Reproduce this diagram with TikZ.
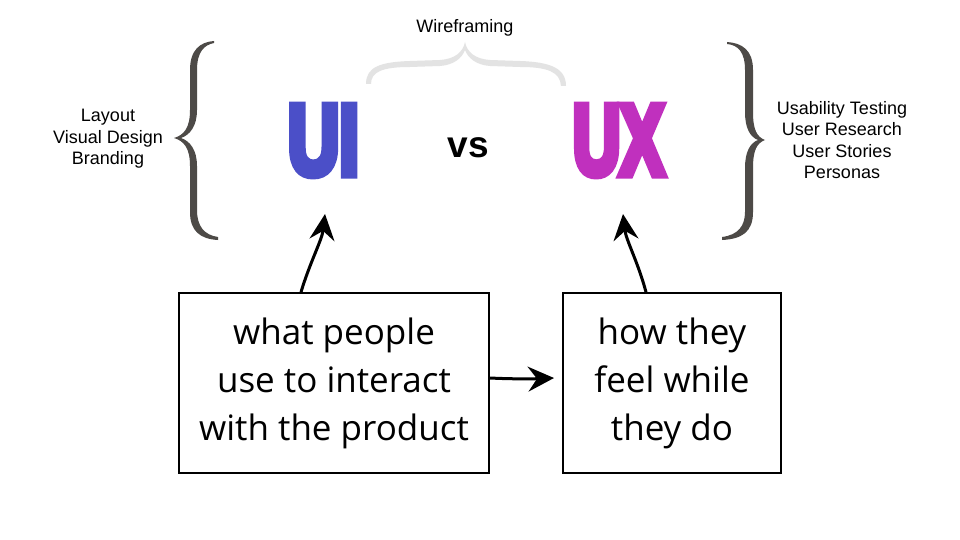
\documentclass[tikz,border=0pt]{standalone}
\usepackage{fontspec}
\setmainfont{Liberation Sans}
\newfontfamily\heavyfont[FakeBold=9]{Liberation Sans}
\newfontfamily\handfont{Open Sans}
\usetikzlibrary{arrows.meta}
\definecolor{uiblue}{HTML}{4B4FC8}
\definecolor{uxpink}{HTML}{C030BE}
\definecolor{bracegray}{HTML}{4D4A47}
\definecolor{wiregray}{HTML}{E3E3E3}
\tikzset{
  smalltext/.style={font=\fontsize{18}{21.5}\selectfont, align=center, inner sep=0pt},
  bigletters/.style={inner sep=0pt},
  textbox/.style={draw, line width=1.8pt, minimum height=180pt, inner sep=0pt,
    font=\handfont\fontsize{35}{48}\selectfont, align=center},
  handarrow/.style={line width=3pt, -{Stealth[length=26pt,width=25pt,inset=9pt]}},
}
\begin{document}
\begin{tikzpicture}[x=1pt,y=-1pt]
\useasboundingbox[fill=white] (0,0) rectangle (960,540);

% left brace
\fill[bracegray] (214,41) .. controls (200,42) and (190,50) .. (190,70) -- (190,110)
  .. controls (190,128) and (184,135) .. (174,138)
  .. controls (184,141) and (190,148) .. (190,166) -- (190,212)
  .. controls (190,231) and (200,239) .. (218,240) -- (218,237)
  .. controls (204,235) and (197,226) .. (197,210) -- (197,166)
  .. controls (197,150) and (190,141) .. (181,138)
  .. controls (190,135) and (197,126) .. (197,110) -- (197,70)
  .. controls (197,52) and (204,45) .. (214,43) -- cycle;

% right brace
\fill[bracegray] (727,42) .. controls (742,43) and (753,50) .. (753,70) -- (753,112)
  .. controls (753,130) and (757,137) .. (765,140)
  .. controls (757,143) and (753,150) .. (753,168) -- (753,212)
  .. controls (753,232) and (742,239) .. (722,240) -- (722,237)
  .. controls (738,235) and (745,226) .. (745,212) -- (745,168)
  .. controls (745,152) and (750,143) .. (758,140)
  .. controls (750,137) and (745,128) .. (745,112) -- (745,70)
  .. controls (745,52) and (738,45) .. (727,44) -- cycle;

% wireframing brace
\fill[wiregray] (366,84) .. controls (366,67) and (380,62) .. (410,61) -- (440,60)
  .. controls (455,59) and (463,52) .. (465,42)
  .. controls (467,52) and (475,59) .. (490,60) -- (520,61)
  .. controls (550,62) and (566,68) .. (566,86) -- (561,86)
  .. controls (560,72) and (548,67) .. (520,67) -- (490,66)
  .. controls (476,65) and (468,58) .. (465,50)
  .. controls (462,58) and (454,65) .. (440,66) -- (410,67)
  .. controls (382,67) and (371,72) .. (371,84) -- cycle;

\node[smalltext] (wire) at (465,28) {Wireframing};
\node[smalltext] (left) at (108,139) {Layout\\Visual Design\\Branding};
\node[smalltext] (right) at (842,140) {Usability Testing\\User Research\\User Stories\\Personas};

\node[bigletters, text=uiblue] (ui) at (323.5,140.5) {\resizebox{71pt}{68pt}{\heavyfont\bfseries UI}};
\node[bigletters, text=uxpink] (ux) at (618.5,140.5) {\resizebox{91pt}{68pt}{\heavyfont\bfseries UX}};
\node[inner sep=0pt, font=\fontsize{37}{37}\selectfont\bfseries] (vs) at (468,148) {vs};

\node[textbox, minimum width=310pt] (lb) at (334,383) {what people\\use to interact\\with the product};
\node[textbox, minimum width=218pt] (rb) at (672,383) {how they\\feel while\\they do};

\coordinate (uitip) at (325,214);
\coordinate (uxtip) at (623,214);
\coordinate (rbtip) at (554,378);

\draw[handarrow] ([xshift=-33pt]lb.north) .. controls ([xshift=-24pt,yshift=30pt]lb.north) and (322,240) .. (uitip);
\draw[handarrow] ([xshift=-26pt]rb.north) .. controls ([xshift=-34pt,yshift=30pt]rb.north) and (626,240) .. (uxtip);
\draw[handarrow] ([yshift=5pt]lb.east) .. controls ([xshift=20pt,yshift=4pt]lb.east) and (530,379) .. (rbtip);
\end{tikzpicture}
\end{document}
